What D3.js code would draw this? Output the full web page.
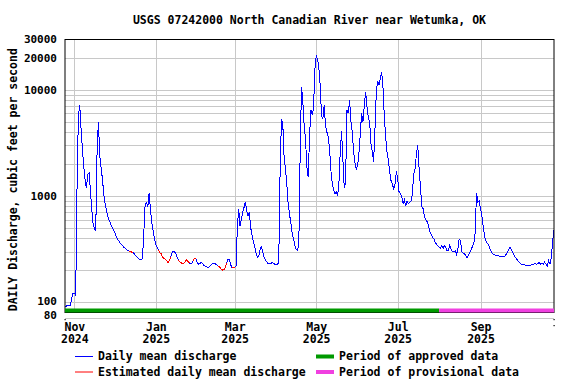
<!DOCTYPE html>
<html>
<head>
<meta charset="utf-8">
<script src="https://cdn.jsdelivr.net/npm/d3@7"></script>
<style>
  body { margin: 0; background: #fff; }
  svg text { font-family: "DejaVu Sans Mono", monospace; font-weight: bold; font-size: 11.5px; fill: #000; }
</style>
</head>
<body>
<div id="chart"></div>
<script>
// ------- data -------
const TITLE = "USGS 07242000 North Canadian River near Wetumka, OK";
const Y_LABEL = "DAILY Discharge, cubic feet per second";

const startDate = "2024-10-25";   // first daily value
const axisEnd = "2025-10-26";

// daily mean discharge, cfs, one value per day from startDate
const dailyMean = [
  91, 92, 93, 94, 94, 108, 122, 122, 115, 1200,
  5500, 7200, 4300, 2800, 1900, 1450, 1180, 1600, 1650, 1130,
  760, 550, 490, 470, 2600, 5000, 2400, 1850, 1450, 1050,
  850, 740, 640, 590, 555, 515, 485, 462, 425, 400,
  382, 365, 350, 340, 330, 322, 312, 306, 304, 300,
  296, 294, 283, 274, 266, 258, 251, 250, 258, 450,
  850, 870, 790, 1070, 730, 560, 470, 395, 350, 330,
  312, 292, 286, 266, 257, 255, 248, 234, 244, 265,
  290, 302, 298, 288, 265, 248, 240, 234, 233, 234,
  242, 250, 242, 235, 230, 233, 246, 260, 258, 236,
  228, 230, 238, 230, 222, 219, 216, 211, 216, 223,
  230, 233, 232, 226, 222, 218, 212, 205, 200, 202,
  213, 236, 256, 250, 225, 212, 210, 212, 220, 500,
  760, 520, 600, 700, 780, 880, 720, 650, 700, 500,
  430, 370, 330, 290, 262, 270, 310, 340, 295, 265,
  250, 240, 230, 230, 230, 236, 232, 228, 225, 225,
  240, 1700, 5300, 4800, 2300, 1800, 1300, 850, 680, 560,
  450, 395, 345, 315, 310, 350, 2500, 10700, 7800, 4600,
  3450, 1900, 1500, 3500, 6500, 5900, 6500, 15500, 20800, 19500,
  16200, 11000, 5700, 5300, 7200, 4600, 4000, 3600, 2800, 1750,
  1330, 1150, 1050, 1100, 1000, 1300, 2600, 4050, 2200, 1200,
  1300, 6500, 6000, 8000, 5000, 4000, 2600, 2050, 1800, 1950,
  2500, 3800, 6000, 5000, 7000, 9500, 7000, 5500, 5000, 3100,
  2600, 2100, 4200, 9500, 12000, 11000, 12800, 14800, 10500, 5600,
  3600, 2600, 2200, 1700, 1400, 1290, 1170, 1300, 1700, 1450,
  1100, 1050, 1000, 850, 920, 800, 900, 850, 870, 900,
  1050, 1600, 1800, 2450, 3000, 1830, 1250, 800, 760, 640,
  600, 575, 530, 460, 440, 410, 395, 370, 350, 340,
  330, 320, 340, 322, 340, 330, 305, 310, 345, 315,
  300, 300, 305, 280, 315, 390, 380, 300, 290, 285,
  275, 262, 280, 295, 315, 335, 360, 450, 1070, 880,
  900, 760, 650, 520, 420, 380, 360, 345, 320, 300,
  285, 280, 278, 275, 275, 272, 270, 268, 266, 270,
  280, 295, 310, 330, 315, 295, 280, 265, 255, 245,
  237, 230, 226, 226, 224, 222, 220, 220, 222, 224,
  226, 228, 232, 228, 232, 236, 228, 234, 226, 238,
  228, 220, 245, 230, 260, 380, 480
];

// periods of estimated daily values (drawn red)
const estimatedStart = ["2024-12-12", "2025-01-03", "2025-01-18", "2025-01-29", "2025-02-17", "2025-02-27"];
const estimatedEnd   = ["2024-12-15", "2025-01-12", "2025-01-26", "2025-01-31", "2025-02-23", "2025-03-01"];

const approvedPeriod = ["2024-10-25", "2025-08-01"];
const provisionalPeriod = ["2025-08-01", "2025-10-26"];

const xTicks = ["2024-11-01", "2025-01-01", "2025-03-01", "2025-05-01", "2025-07-01", "2025-09-01"];
const yLabels = [30000, 20000, 10000, 1000, 100, 80];
const yGrid = [20000, 10000, 9000, 8000, 7000, 6000, 5000, 4000, 3000, 2000,
               1000, 900, 800, 700, 600, 500, 400, 300, 200, 100];

const legendLines = [
  { label: "Daily mean discharge", color: "#0000ff" },
  { label: "Estimated daily mean discharge", color: "#ff0000" }
];
const legendBars = [
  { label: "Period of approved data", color: "#009900" },
  { label: "Period of provisional data", color: "#f040e0" }
];

// ------- chart -------
const width = 576, height = 384;
const plotL = 65, plotR = 554, plotT = 39, plotB = 312.5;

const parse = d3.timeParse("%Y-%m-%d");
const t0 = parse(startDate);
const series = dailyMean.map((v, i) => ({ date: d3.timeDay.offset(t0, i), value: v }));

const x = d3.scaleTime().domain([t0, parse(axisEnd)]).range([plotL, plotR]);
const y = d3.scaleLog().domain([80, 30000]).range([plotB, plotT]);

const svg = d3.select("#chart").append("svg")
  .attr("width", width).attr("height", height);

// title
svg.append("text")
  .attr("x", (plotL + plotR) / 2).attr("y", 24)
  .attr("text-anchor", "middle")
  .text(TITLE);

// horizontal grid
svg.append("g")
  .selectAll("line")
  .data(yGrid)
  .join("line")
  .attr("x1", plotL).attr("x2", plotR)
  .attr("y1", d => Math.round(y(d)) + 0.5).attr("y2", d => Math.round(y(d)) + 0.5)
  .attr("stroke", "#c8c8c8").attr("stroke-width", 1);

// vertical grid at labelled months
svg.append("g")
  .selectAll("line")
  .data(xTicks.map(parse))
  .join("line")
  .attr("x1", d => Math.round(x(d)) + 0.5).attr("x2", d => Math.round(x(d)) + 0.5)
  .attr("y1", plotT).attr("y2", plotB)
  .attr("stroke", "#c8c8c8").attr("stroke-width", 1);

// lower light rule under the plot
svg.append("line")
  .attr("x1", plotL).attr("x2", plotR).attr("y1", 318.5).attr("y2", 318.5)
  .attr("stroke", "#c8c8c8");

// y tick labels (the two bottom ones sit very close, nudge them apart a little)
const yNudge = { 100: -1.5, 80: 2 };
const yAxis = svg.append("g")
  .attr("transform", `translate(${plotL},0)`)
  .call(d3.axisLeft(y).tickValues(yLabels).tickSize(0).tickPadding(8).tickFormat(d3.format("d")));
yAxis.select(".domain").remove();
yAxis.attr("font-family", null).attr("font-size", null);
yAxis.selectAll(".tick text")
  .style("font-size", "11px")
  .attr("y", d => yNudge[d] || 0);

// x tick labels (month / year)
const xAxis = svg.append("g")
  .attr("transform", `translate(0,${plotB})`)
  .call(d3.axisBottom(x).tickValues(xTicks.map(parse)).tickSize(0).tickPadding(10).tickFormat(d3.timeFormat("%b")));
xAxis.select(".domain").remove();
xAxis.attr("font-family", null).attr("font-size", null);
xAxis.selectAll(".tick text")
  .each(function(d) {
    d3.select(this).append("tspan")
      .attr("x", 0).attr("dy", "1.1em")
      .text(d3.timeFormat("%Y")(d));
  });

// small end ticks
[[plotL, 319], [plotR, 319], [plotR, 325]].forEach(([px, py]) => {
  svg.append("rect").attr("x", px - 0.5).attr("y", py).attr("width", 1.2).attr("height", 1.2).attr("fill", "#000");
});

// y axis title
svg.append("text")
  .attr("transform", `translate(17,${(plotT + plotB) / 2 + 4}) rotate(-90)`)
  .attr("text-anchor", "middle")
  .text(Y_LABEL);

// data line
const line = d3.line().x(d => x(d.date)).y(d => y(d.value));

svg.append("path")
  .datum(series)
  .attr("d", line)
  .attr("fill", "none")
  .attr("stroke", "#0000ff")
  .attr("stroke-width", 1)
  .attr("shape-rendering", "crispEdges");

estimatedStart.forEach((s, k) => {
  const a = parse(s), b = parse(estimatedEnd[k]);
  const part = series.filter(d => d.date >= a && d.date <= b);
  svg.append("path")
    .datum(part)
    .attr("d", line)
    .attr("fill", "none")
    .attr("stroke", "#ff0000")
    .attr("stroke-width", 1)
    .attr("shape-rendering", "crispEdges");
});

// frame
svg.append("rect")
  .attr("x", plotL).attr("y", plotT + 0.5)
  .attr("width", plotR - plotL).attr("height", plotB - plotT - 0.5)
  .attr("fill", "none").attr("stroke", "#000").attr("stroke-width", 1);

// approval status bars
[[approvedPeriod, legendBars[0].color], [provisionalPeriod, legendBars[1].color]].forEach(([p, c]) => {
  svg.append("rect")
    .attr("x", x(parse(p[0]))).attr("y", 308.5)
    .attr("width", x(parse(p[1])) - x(parse(p[0]))).attr("height", 4)
    .attr("fill", c);
});

// legend
const legend = svg.append("g");
legendLines.forEach((d, i) => {
  const ly = 356.5 + i * 15.5;
  legend.append("line").attr("x1", 75).attr("x2", 93).attr("y1", ly).attr("y2", ly)
    .attr("stroke", d.color).attr("stroke-width", 1);
  legend.append("text").attr("x", 98).attr("y", ly + 3.8).text(d.label);
});
legendBars.forEach((d, i) => {
  const ly = 356.5 + i * 15.5;
  legend.append("rect").attr("x", 316).attr("y", ly - 2).attr("width", 18).attr("height", 4)
    .attr("fill", d.color);
  legend.append("text").attr("x", 339).attr("y", ly + 3.8).text(d.label);
});
</script>
</body>
</html>
